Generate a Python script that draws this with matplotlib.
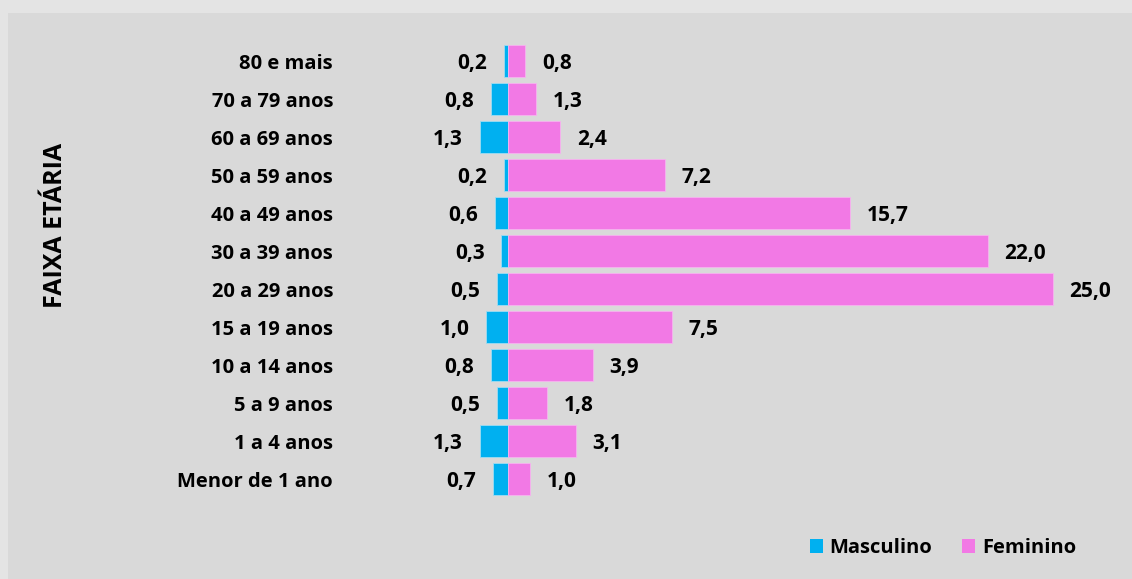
import matplotlib.pyplot as plt
from matplotlib.patches import Patch

# Data (top to bottom)
faixas = ['80 e mais', '70 a 79 anos', '60 a 69 anos', '50 a 59 anos',
          '40 a 49 anos', '30 a 39 anos', '20 a 29 anos', '15 a 19 anos',
          '10 a 14 anos', '5 a 9 anos', '1 a 4 anos', 'Menor de 1 ano']
masculino = [0.2, 0.8, 1.3, 0.2, 0.6, 0.3, 0.5, 1.0, 0.8, 0.5, 1.3, 0.7]
feminino = [0.8, 1.3, 2.4, 7.2, 15.7, 22.0, 25.0, 7.5, 3.9, 1.8, 3.1, 1.0]

azul = '#00b0f0'
rosa = '#f279e5'
W, H = 1132, 579

plt.rcParams['font.family'] = ['Open Sans', 'DejaVu Sans']
plt.rcParams['font.weight'] = 'bold'

fig = plt.figure(figsize=(W / 100, H / 100), dpi=100)
fig.patch.set_facecolor('#e4e4e4')

# inner gray panel
panel = fig.add_axes([8 / W, 0, 1 - 8 / W, 1 - 13 / H])
panel.set_facecolor('#d9d9d9')
panel.set_xticks([])
panel.set_yticks([])
for s in panel.spines.values():
    s.set_visible(False)

# plotting axes: zero at x=508px, 21.8 px per unit, rows 38 px apart from y=61px
x0, scale = 508, 21.8
ax_left, ax_right = 340, 1132
ax = fig.add_axes([ax_left / W, 0, (ax_right - ax_left) / W, 1 - 13 / H])
ax.patch.set_alpha(0)
ax.set_xlim((ax_left - x0) / scale, (ax_right - x0) / scale)
ax.set_ylim((H - 61) / 38, (13 - 61) / 38)

y = list(range(len(faixas)))
ax.barh(y, [-m for m in masculino], height=0.84, color=azul,
        edgecolor='#9fdcf2', linewidth=0.6)
ax.barh(y, feminino, height=0.84, color=rosa,
        edgecolor='#f6b3ef', linewidth=0.6)

for i, (m, f) in enumerate(zip(masculino, feminino)):
    ax.annotate(f'{m:.1f}'.replace('.', ','), (-m, i), xytext=(-12, -1.5),
                textcoords='offset points', ha='right', va='center',
                fontsize=15, fontweight='bold')
    ax.annotate(f'{f:.1f}'.replace('.', ','), (f, i), xytext=(12, -1.5),
                textcoords='offset points', ha='left', va='center',
                fontsize=15, fontweight='bold')

ax.set_yticks(y)
ax.set_yticklabels(faixas, fontsize=14.5, fontweight='bold')
ax.tick_params(axis='y', length=0, pad=5)
ax.set_xticks([])
for s in ax.spines.values():
    s.set_visible(False)

fig.text(56 / W, 1 - 225 / H, 'FAIXA ETÁRIA', rotation=90, ha='center',
         va='center', fontsize=18, fontweight='bold')

handles = [Patch(facecolor=azul, label='Masculino'),
           Patch(facecolor=rosa, label='Feminino')]
fig.legend(handles=handles, loc='center right',
           bbox_to_anchor=(1094 / W, 1 - 548 / H), ncol=2, frameon=False,
           prop={'size': 14.5, 'weight': 'bold'}, handlelength=0.65,
           handleheight=0.65, handletextpad=0.35, columnspacing=1.45)

fig.savefig('out.png', dpi=100, facecolor=fig.get_facecolor())
